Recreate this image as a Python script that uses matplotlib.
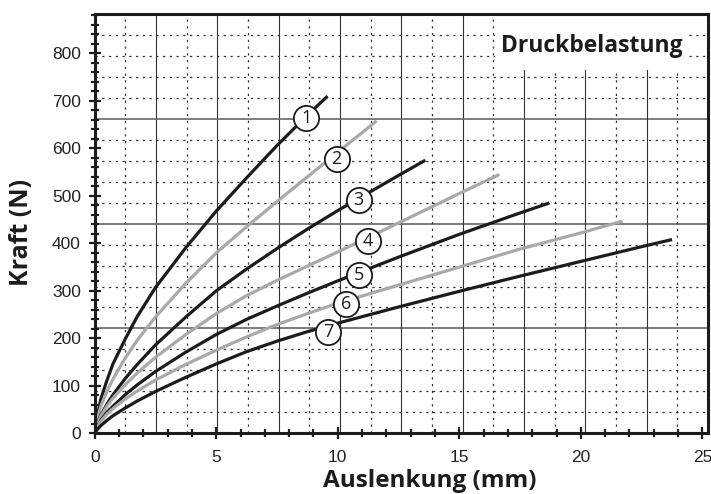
import matplotlib
matplotlib.use('Agg')
import matplotlib.pyplot as plt
import matplotlib.patches as pat
from matplotlib.ticker import MultipleLocator
import numpy as np

# Kennlinien: Auslenkung (mm) / Kraft (N)
k1_x = [0, 0.25, 0.5, 0.75, 1.25, 1.75, 2.5, 3.75, 5, 6.25, 7.5, 8.75, 9.58]
k1_f = [8, 72, 111, 146, 198, 246, 307, 391, 468, 538, 606, 670, 710]

k2_x = [0, 0.25, 0.5, 0.75, 1.25, 1.75, 2.5, 3.75, 5, 6.25, 7.5, 8.75, 10, 11.6]
k2_f = [6, 57, 88, 114, 158, 196, 245, 316, 380, 435, 488, 540, 592, 658]

k3_x = [0, 0.25, 0.5, 0.75, 1.25, 1.75, 2.5, 3.75, 5, 6.25, 7.5, 8.75, 10, 11.25, 12.5, 13.6]
k3_f = [5, 38, 61, 81, 115, 145, 186, 245, 300, 346, 389, 430, 469, 506, 543, 575]

k4_x = [0, 0.25, 0.5, 0.75, 1.25, 1.75, 2.5, 3.75, 5, 6.25, 7.5, 8.75, 10, 12.5, 15, 16.65]
k4_f = [4, 36, 57, 74, 102, 127, 160, 208, 252, 290, 322, 352, 382, 443, 505, 545]

k5_x = [0, 0.25, 0.5, 0.75, 1.25, 1.75, 2.5, 3.75, 5, 6.25, 7.5, 8.75, 10, 12.5, 15, 17.5, 18.7]
k5_f = [3, 27, 44, 57, 81, 102, 130, 171, 208, 240, 268, 295, 321, 371, 419, 464, 485]

k6_x = [0, 0.25, 0.5, 0.75, 1.25, 1.75, 2.5, 3.75, 5, 6.25, 7.5, 8.75, 10, 12.5, 15, 17.5, 20, 21.72]
k6_f = [3, 25, 40, 52, 72, 89, 112, 145, 175, 203, 229, 252, 274, 312, 350, 388, 422, 447]

k7_x = [0, 0.25, 0.5, 0.75, 1.25, 1.75, 2.5, 3.75, 5, 6.25, 7.5, 8.75, 10, 12.5, 15, 17.5, 20, 22.5, 23.75]
k7_f = [2, 16, 27, 37, 53, 68, 88, 118, 146, 172, 194, 214, 232, 266, 299, 331, 362, 393, 408]

# Nummern der Kennlinien
nr = ['1', '2', '3', '4', '5', '6', '7']
nr_x = [8.71, 9.95, 10.86, 11.25, 10.88, 10.35, 9.6]
nr_f = [665, 577, 491, 405, 334, 272, 214]

x_ticks = [0, 5, 10, 15, 20, 25]
y_ticks = [0, 100, 200, 300, 400, 500, 600, 700, 800]

xmax = 25.23
ymax = 883

schwarz = '#1c1c1c'
grau = '#a9a9a9'

plt.rcParams['font.family'] = ['Liberation Sans', 'DejaVu Sans']

fig = plt.figure(figsize=(7.11, 4.94), dpi=100)
ax = fig.add_axes([0.1332, 0.1229, 0.8626, 0.8488])
ax.set_xlim(0, xmax)
ax.set_ylim(0, ymax)

# Raster: 20 Spalten und 20 Zeilen ueber den Rahmen
for k in range(1, 20):
    xv = k * xmax / 20
    if k % 2 == 0:
        ax.axvline(xv, color='#333333', lw=0.8, zorder=1)
    else:
        ax.axvline(xv, color='#333333', lw=0.9, ls=(0, (1.8, 3.6)), zorder=1)
    yv = k * ymax / 20
    if k % 5 == 0:
        ax.axhline(yv, color='#666666', lw=1.2, zorder=1)
    else:
        ax.axhline(yv, color='#333333', lw=0.9, ls=(0, (1.8, 3.6)), zorder=1)

kurven = [(k1_x, k1_f), (k2_x, k2_f), (k3_x, k3_f), (k4_x, k4_f),
          (k5_x, k5_f), (k6_x, k6_f), (k7_x, k7_f)]
for i, (kx, kf) in enumerate(kurven):
    farbe = schwarz if i % 2 == 0 else grau
    ax.plot(kx, kf, color=farbe, lw=2.3, solid_capstyle='butt',
            solid_joinstyle='round', zorder=3)

ax.scatter(nr_x, nr_f, s=330, facecolor='white', edgecolor=schwarz,
           linewidths=1.3, zorder=4, clip_on=False)
for t, px, pf in zip(nr, nr_x, nr_f):
    ax.text(px, pf, t, ha='center', va='center', fontsize=13,
            family='Open Sans', color=schwarz, zorder=5)

# Titel im Diagramm mit weissem Hintergrund
ax.add_patch(pat.Rectangle((16.46, 765), 7.9, 130, facecolor='white',
                           edgecolor='none', zorder=2))
ax.text(20.44, 816, 'Druckbelastung', ha='center', va='center',
        fontsize=16.5, fontweight='bold', family='Open Sans', color=schwarz,
        zorder=5)

for s in ax.spines.values():
    s.set_linewidth(2.2)
    s.set_color(schwarz)
    s.set_zorder(6)

ax.set_xticks(x_ticks)
ax.set_yticks(y_ticks)
ax.xaxis.set_minor_locator(MultipleLocator(1))
ax.set_yticks(np.arange(0, 881, 20), minor=True)
ax.tick_params(axis='both', which='major', direction='inout', length=8,
               width=1.6, color=schwarz, labelsize=12.5, labelcolor='#222222')
ax.tick_params(axis='both', which='minor', direction='inout', length=6,
               width=1.6, color=schwarz)
ax.tick_params(axis='x', which='major', pad=8)
ax.tick_params(axis='y', which='major', pad=6)

fig.text(430 / 711, 1 - 481 / 494, 'Auslenkung (mm)', ha='center', va='center',
         fontsize=17.5, fontweight='bold', family='Open Sans', color=schwarz)
fig.text(22 / 711, 1 - 232 / 494, 'Kraft (N)', ha='center', va='center',
         rotation=90, fontsize=18, fontweight='bold', family='Open Sans',
         color=schwarz)

fig.savefig('out.png', dpi=100)
